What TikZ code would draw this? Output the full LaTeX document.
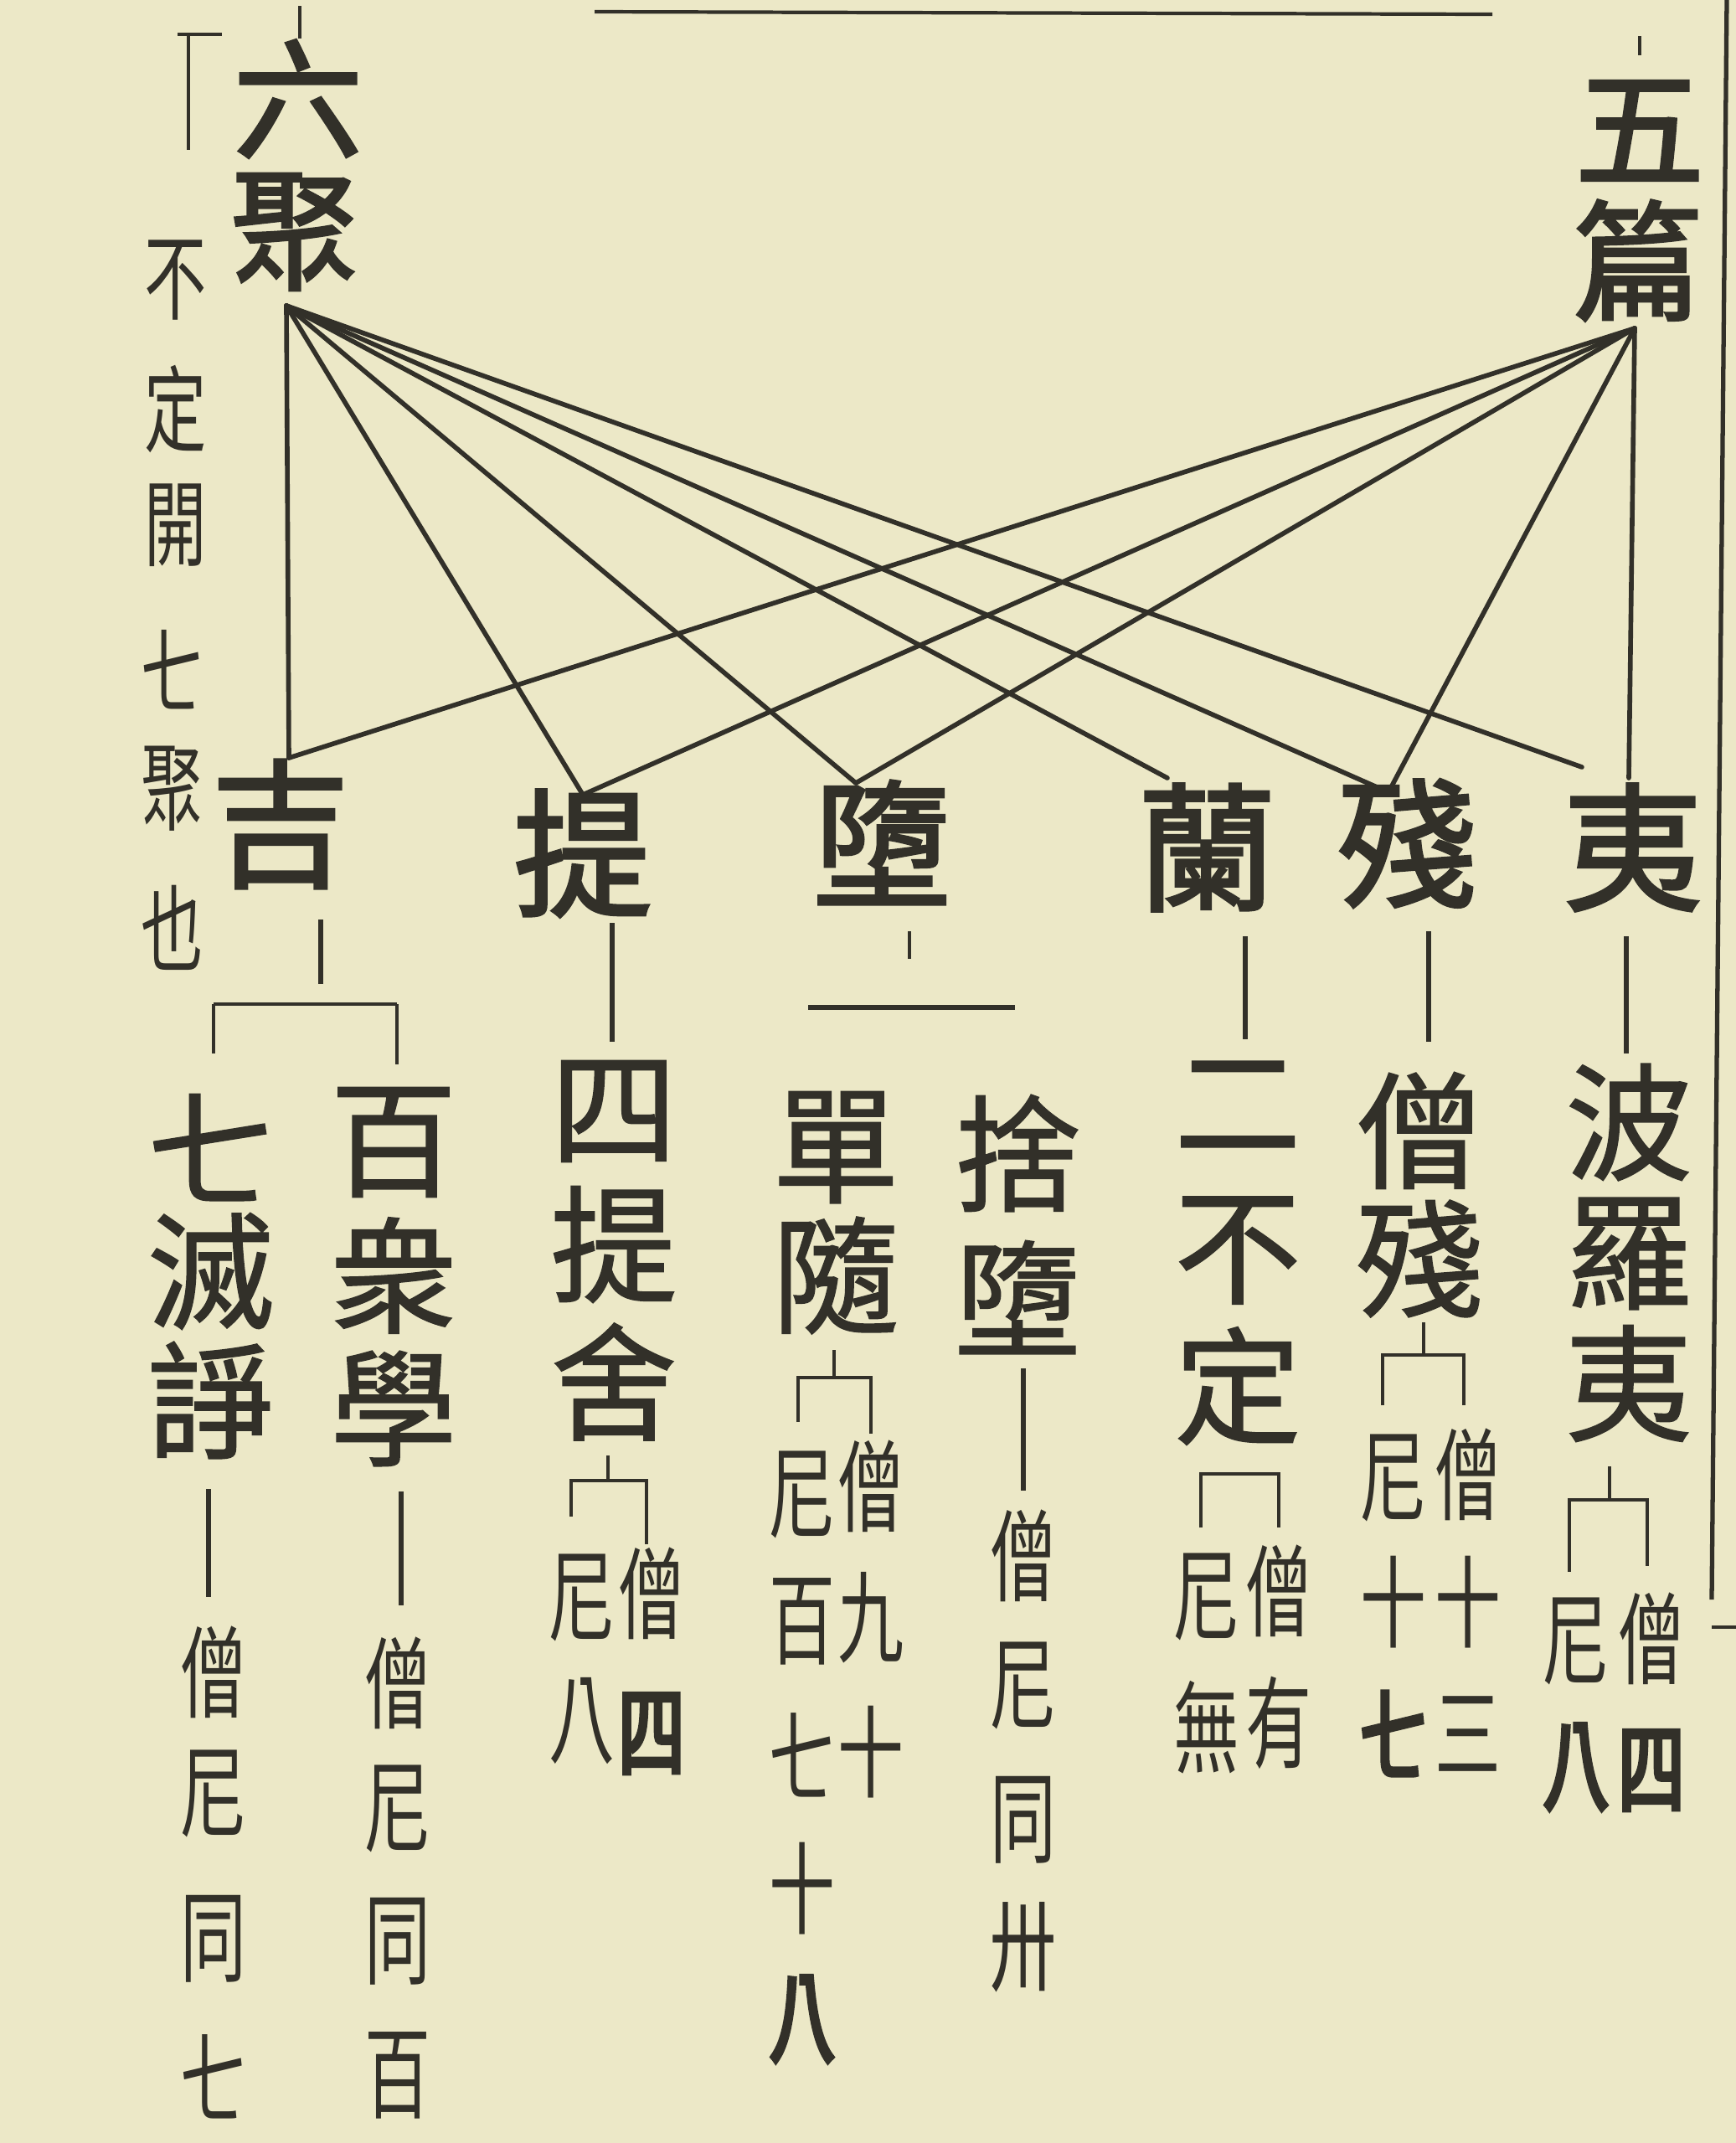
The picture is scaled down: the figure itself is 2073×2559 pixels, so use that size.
\documentclass[tikz,border=0pt]{standalone}
\usepackage{fontspec}
\newfontfamily\cjk{Noto Sans CJK TC}
\newfontfamily\cjkB[FakeBold=2.2]{Noto Sans CJK TC}
\newfontfamily\cjkM[FakeBold=1.2]{Noto Sans CJK TC}
\newfontfamily\cjkn[FakeStretch=0.66]{Noto Sans CJK TC}
\newfontfamily\cjknB[FakeStretch=0.66,FakeBold=4]{Noto Sans CJK TC}
\definecolor{paper}{RGB}{236,232,199}
\definecolor{ink}{RGB}{50,48,41}
\tikzset{
  big/.style={inner sep=0pt, text=ink, font=\cjkB\fontsize{47}{47}\selectfont},
  ttl/.style={inner sep=0pt, text=ink, font=\cjkB\fontsize{44}{44}\selectfont},
  med/.style={inner sep=0pt, text=ink, font=\cjkM\fontsize{43}{43}\selectfont},
  sml/.style={inner sep=0pt, text=ink, font=\cjkn\fontsize{34}{34}\selectfont},
  smlb/.style={inner sep=0pt, text=ink, font=\cjknB\fontsize{34}{34}\selectfont},
  lft/.style={inner sep=0pt, text=ink, font=\cjkn\fontsize{32}{32}\selectfont},
  fan/.style={draw=ink, line width=1.6pt, line cap=round},
  tick/.style={draw=ink, line width=1.7pt},
  brk/.style={draw=ink, line width=1.2pt},
}
\begin{document}
\begin{tikzpicture}[x=0.01cm, y=-0.01cm]
\fill[paper] (0,0) rectangle (2073,2559);
\useasboundingbox (0,0) rectangle (2073,2559);

% frame marks
\draw[brk] (710,14) -- (1782,17);
\draw[brk, line width=1.5pt] (2062,0) -- (2044,1910);
\draw[brk] (2044,1943) -- (2073,1943);
\draw[brk] (358,7) -- (358,46);
\draw[brk] (1958,43) -- (1958,66);
\draw[brk] (212,41) -- (265,41);
\draw[brk] (225,41) -- (225,179);

% titles
\node[ttl] (liu) at (356,118) {六};
\node[ttl] (ju) at (352,277) {聚};
\node[ttl] (wu) at (1958,156) {五};
\node[ttl] (pian) at (1955,311) {篇};

% left annotation column
\foreach \c/\y [count=\i] in {不/335,定/488,開/627}
  \node[lft] (la\i) at (210,\y) {\c};
\foreach \c/\y [count=\i] in {七/800,聚/942,也/1108}
  \node[lft] (lb\i) at (206,\y) {\c};

% top row
\node[big] (ji)  at (335,984) {吉};
\node[big] (ti)  at (696,1019) {提};
\node[big] (duo) at (1053,1006) {墮};
\node[big] (lan) at (1441,1012) {蘭};
\node[big] (can) at (1680,1007) {殘};
\node[big] (yi)  at (1950,1012) {夷};

% convergence points and apexes
\coordinate (liuP) at (342,365);
\coordinate (wuP) at (1952,392);
\coordinate (aJi) at (345,905);
\coordinate (aTi) at (696,949);
\coordinate (aDuo) at (1022,935);
\coordinate (aLan) at (1394,929);
\coordinate (aCan) at (1658,946);
\coordinate (aYi) at (1889,916);
\coordinate (aYiV) at (1945,929);

\foreach \t in {aJi,aTi,aDuo,aLan,aCan,aYi}
  \draw[fan] (liuP) -- (\t);
\foreach \t in {aJi,aTi,aDuo,aCan,aYiV}
  \draw[fan] (wuP) -- (\t);

% second tier
\foreach \c/\y [count=\i] in {七/1370,滅/1518,諍/1672}
  \node[med] (qm\i) at (252,\y) {\c};
\foreach \c/\y [count=\i] in {百/1364,衆/1523,學/1682}
  \node[med] (bz\i) at (470,\y) {\c};
\foreach \c/\y [count=\i] in {四/1327,提/1486,舍/1650}
  \node[med] (st\i) at (733,\y) {\c};
\foreach \c/\y [count=\i] in {單/1370,隨/1523}
  \node[med] (ds\i) at (998,\y) {\c};
\foreach \c/\y [count=\i] in {捨/1377,墮/1549}
  \node[med] (sd\i) at (1215,\y) {\c};
\foreach \c/\y [count=\i] in {二/1320,不/1493,定/1655}
  \node[med] (eb\i) at (1478,\y) {\c};
\foreach \c/\y [count=\i] in {僧/1350,殘/1503}
  \node[med] (sc\i) at (1695,\y) {\c};
\foreach \c/\y [count=\i] in {波/1340,羅/1497,夷/1652}
  \node[med] (bl\i) at (1945,\y) {\c};

% connectors from top row
\draw[tick] (383,1098) -- (383,1175);
\draw[brk] (255,1199) -- (474,1199);
\draw[brk] (255,1199) -- (255,1258);
\draw[brk] (474,1199) -- (474,1271);
\draw[tick] (731,1102) -- (731,1244);
\draw[brk] (1086,1112) -- (1086,1145);
\draw[tick] (965,1203) -- (1212,1203);
\draw[tick] (1487,1118) -- (1487,1241);
\draw[tick] (1706,1112) -- (1706,1244);
\draw[tick] (1942,1118) -- (1942,1258);

% third tier connectors
\draw[tick] (249,1778) -- (249,1907);
\draw[tick] (479,1781) -- (479,1917);
\draw[tick] (1222,1634) -- (1222,1780);
% brackets
\draw[brk] (726,1738) -- (726,1768);
\draw[brk] (682,1811) -- (682,1768) -- (772,1768) -- (772,1844);
\draw[brk] (996,1612) -- (996,1645);
\draw[brk] (953,1698) -- (953,1645) -- (1040,1645) -- (1040,1712);
\draw[brk] (1434,1824) -- (1434,1760) -- (1527,1760) -- (1527,1824);
\draw[brk] (1700,1579) -- (1700,1618);
\draw[brk] (1651,1678) -- (1651,1618) -- (1748,1618) -- (1748,1678);
\draw[brk] (1922,1751) -- (1922,1791);
\draw[brk] (1874,1877) -- (1874,1791) -- (1967,1791) -- (1967,1870);

% annotations
\foreach \c/\y [count=\i] in {僧/1997,尼/2142,同/2315,七/2480}
  \node[sml] (aq\i) at (255,\y) {\c};
\foreach \c/\y [count=\i] in {僧/2010,尼/2160,同/2318,百/2478}
  \node[sml] (ab\i) at (475,\y) {\c};
\node[sml] (at1) at (778,1903) {僧};
\node[smlb] (at2) at (778,2070) {四};
\node[sml] (an1) at (695,1908) {尼};
\node[sml] (an2) at (695,2055) {八};
\foreach \c/\y [count=\i] in {僧/1775,九/1932,十/2092}
  \node[sml] (adr\i) at (1040,\y) {\c};
\foreach \c/\y [count=\i] in {尼/1785,百/1936,七/2096,十/2255}
  \node[sml] (adl\i) at (958,\y) {\c};
\node[smlb] (adl5) at (958,2411) {八};
\foreach \c/\y [count=\i] in {僧/1858,尼/2013,同/2173,卅/2325}
  \node[sml] (as\i) at (1222,\y) {\c};
\node[sml] (aer1) at (1527,1900) {僧};
\node[sml] (aer2) at (1527,2057) {有};
\node[sml] (ael1) at (1441,1907) {尼};
\node[sml] (ael2) at (1441,2063) {無};
\foreach \c/\y [count=\i] in {僧/1761,十/1913,三/2070}
  \node[sml] (acr\i) at (1753,\y) {\c};
\node[sml] (acl1) at (1664,1765) {尼};
\node[sml] (acl2) at (1664,1913) {十};
\node[smlb] (acl3) at (1664,2070) {七};
\node[sml] (ayr1) at (1972,1957) {僧};
\node[smlb] (ayr2) at (1972,2114) {四};
\node[sml] (ayl1) at (1882,1960) {尼};
\node[smlb] (ayl2) at (1882,2110) {八};
\end{tikzpicture}
\end{document}
